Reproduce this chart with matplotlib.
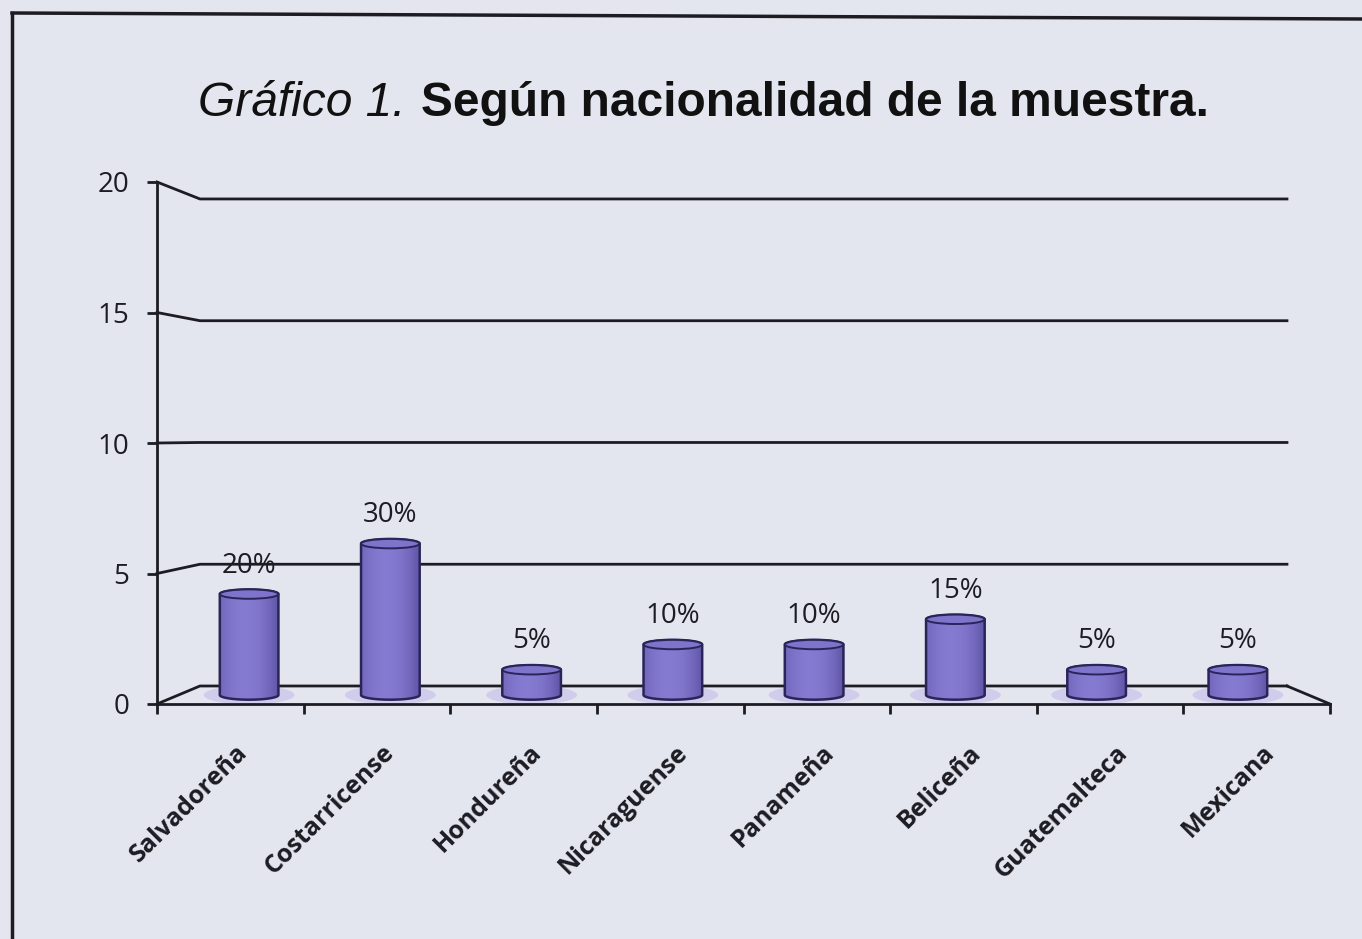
import numpy as np
import matplotlib
matplotlib.use('Agg')
import matplotlib.pyplot as plt
from matplotlib.patches import Ellipse, PathPatch
from matplotlib.path import Path
from matplotlib.lines import Line2D
from matplotlib.transforms import ScaledTranslation

# data
categories = ['Salvadoreña', 'Costarricense', 'Hondureña', 'Nicaraguense',
              'Panameña', 'Beliceña', 'Guatemalteca', 'Mexicana']
counts = [4, 6, 1, 2, 2, 3, 1, 1]
pct_labels = ['20%', '30%', '5%', '10%', '10%', '15%', '5%', '5%']
yticks = [0, 5, 10, 15, 20]

BG = '#e4e6ef'
INK = '#1c1c22'

# fake 3d: depth d in [0, 1] shifts and shrinks toward the back wall
DX, WSHR = 0.293, 0.0733
DY, HSHR = 0.69, 0.067


def proj(x, v, d):
    return DX * d + x * (1 - WSHR * d), DY * d + v * (1 - HSHR * d)


W, H = 1362, 939
fig = plt.figure(figsize=(W / 100, H / 100), dpi=100, facecolor=BG)
ax = fig.add_axes([157 / W, 1 - 704 / H, 1173 / W, 522 / H])
ax.set_facecolor('none')
ncat = len(categories)

# back wall grid lines (slanting in from the front axis)
for v in yticks:
    x0, y0 = proj(0, v, 0)
    x1, y1 = proj(0, v, 1)
    x2, y2 = proj(ncat, v, 1)
    ax.plot([x0, x1, x2], [y0, y1, y2], color=INK, lw=2, zorder=1,
            solid_joinstyle='round', clip_on=False)

# right edge of the floor
xa, ya = proj(ncat, 0, 0)
xb, yb_ = proj(ncat, 0, 1)
ax.plot([xa, xb], [ya, yb_], color=INK, lw=2, zorder=1, clip_on=False)

# cylinders
bw = 0.40
eh = 0.36
t = np.linspace(0, 1, 200)
prof = np.clip(1 - ((t - 0.42) / 0.6) ** 2, 0, 1)
edge_c = np.array([0.36, 0.32, 0.64])
mid_c = np.array([0.52, 0.48, 0.82])
grad = (edge_c + (mid_c - edge_c) * prof[:, None])[None, :, :]

for i, (c, lab) in enumerate(zip(counts, pct_labels)):
    xc, yb = proj(i + 0.5, 0, 0.5)
    _, yt = proj(i + 0.5, c, 0.5)
    # soft glow on the floor
    ax.add_patch(Ellipse((xc, yb), bw * 1.55, eh * 2.0, color='#cbc7ec',
                         alpha=0.8, lw=0, zorder=2))
    th1 = np.linspace(np.pi, 2 * np.pi, 40)
    th2 = np.linspace(0, np.pi, 40)
    xs = np.concatenate([xc + bw / 2 * np.cos(th1), xc + bw / 2 * np.cos(th2)])
    ys = np.concatenate([yb + eh / 2 * np.sin(th1), yt + eh / 2 * np.sin(th2)])
    verts = np.column_stack([xs, ys])
    body = PathPatch(Path(np.vstack([verts, verts[:1]]), closed=True),
                     facecolor='none', edgecolor='#2a2558', lw=1.8, zorder=4)
    ax.add_patch(body)
    im = ax.imshow(grad, extent=[xc - bw / 2, xc + bw / 2, yb - eh / 2, yt + eh / 2],
                   aspect='auto', zorder=3, interpolation='bilinear')
    im.set_clip_path(body)
    ax.add_patch(Ellipse((xc, yt), bw, eh, facecolor='#7f74cc',
                         edgecolor='#2a2558', lw=1.4, zorder=5))
    ax.annotate(lab, (xc, yt + eh / 2), xytext=(0, 12), textcoords='offset points',
                ha='center', va='baseline', fontsize=20, color=INK,
                family='Open Sans', zorder=6)

ax.set_xlim(0, ncat)
ax.set_ylim(0, 20)

# axes: front y axis and floor front edge
for s in ['top', 'right']:
    ax.spines[s].set_visible(False)
for s in ['left', 'bottom']:
    ax.spines[s].set_color(INK)
    ax.spines[s].set_linewidth(2)
ax.set_yticks(yticks)
ax.set_yticklabels([str(v) for v in yticks], family='Open Sans', fontsize=20, color=INK)
ax.tick_params(axis='y', direction='out', length=7, width=2, color=INK, pad=13)
ax.set_xticks(range(ncat + 1))
ax.set_xticklabels([])
ax.tick_params(axis='x', direction='out', length=7, width=2, color=INK)

off = ScaledTranslation(14 / 100, -45 / 100, fig.dpi_scale_trans)
for i, name in enumerate(categories):
    ax.text(i + 0.5, 0, name, transform=ax.transData + off, rotation=45,
            rotation_mode='anchor', ha='right', va='center', fontsize=18,
            family='Open Sans', fontweight='bold', color=INK)

# title: italic lead + bold rest
ty = 1 - 116 / H
fig.text(405 / W, ty, 'Gráfico 1.', ha='right', va='baseline', fontsize=34.5,
         family='Liberation Sans', style='italic', color='#111111')
fig.text(421 / W, ty, 'Según nacionalidad de la muestra.', ha='left', va='baseline',
         fontsize=34.5, family='Liberation Sans', fontweight='bold', color='#111111')

# chart border
fig.add_artist(Line2D([12 / W, 1.0], [1 - 13 / H, 1 - 19 / H], transform=fig.transFigure,
                      color=INK, lw=2.5))
fig.add_artist(Line2D([12 / W, 12 / W], [1 - 13 / H, 0], transform=fig.transFigure,
                      color=INK, lw=2.5))

fig.savefig('out.png', dpi=100, facecolor=BG)
